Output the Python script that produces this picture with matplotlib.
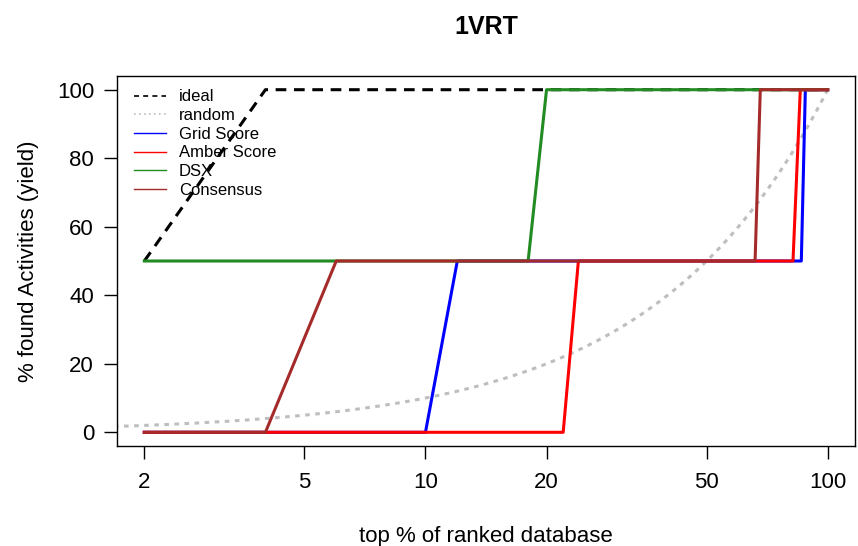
import numpy as np
import matplotlib
matplotlib.use('Agg')
from matplotlib import pyplot as plt
from matplotlib.lines import Line2D

plt.rcParams['font.family'] = ['Liberation Sans', 'DejaVu Sans']

# curves (x = top % of ranked database, y = % found)
ideal_x = [2, 4, 100]
ideal_y = [50, 100, 100]
random_x = [1, 100]
random_y = [1, 100]
grid_x = [2, 10, 12, 86, 88, 100]
grid_y = [0, 0, 50, 50, 100, 100]
amber_x = [2, 22, 24, 82, 85.5, 100]
amber_y = [0, 0, 50, 50, 100, 100]
dsx_x = [2, 18, 20, 100]
dsx_y = [50, 50, 100, 100]
cons_x = [2, 4, 6, 66, 68, 100]
cons_y = [0, 0, 50, 50, 100, 100]

xticks = [2, 5, 10, 20, 50, 100]
yticks = [0, 20, 40, 60, 80, 100]

fig = plt.figure(figsize=(8.58, 5.46), dpi=100)
ax = fig.add_axes([117/858, 1-446/546, (855-117)/858, (446-76)/546])

rx = np.logspace(0, 2, 200)
ax.plot(rx, np.interp(rx, random_x, random_y), color='#BEBEBE', lw=2.2, ls=(0, (1.5, 1.8)))
ax.plot(ideal_x, ideal_y, color='black', lw=2.2, ls=(0, (3.5, 2.5)))
ax.plot(grid_x, grid_y, color='blue', lw=2.2)
ax.plot(amber_x, amber_y, color='red', lw=2.2)
ax.plot(dsx_x, dsx_y, color='#228B22', lw=2.2)
ax.plot(cons_x, cons_y, color='#A52A2A', lw=2.2)

ax.set_xscale('log')
lo, hi = np.log10(2), np.log10(100)
d = (hi - lo) * 0.04
ax.set_xlim(10**(lo - d), 10**(hi + d))
ax.set_ylim(-4, 104)
ax.set_xticks(xticks)
ax.set_xticklabels([str(t) for t in xticks])
ax.xaxis.set_minor_locator(matplotlib.ticker.NullLocator())
ax.set_yticks(yticks)
ax.tick_params(direction='out', length=9.5, width=1, labelsize=16)
ax.tick_params(axis='x', pad=9)
ax.tick_params(axis='y', pad=7)
for s in ax.spines.values():
    s.set_linewidth(1)

ax.set_title('1VRT', fontsize=18, fontweight='bold', pad=30)
ax.set_xlabel('top % of ranked database', fontsize=16, labelpad=24)
ax.set_ylabel('% found Activities (yield)', fontsize=16, labelpad=13)

handles = [
    Line2D([], [], color='black', lw=1.2, ls=(0, (3, 2.5))),
    Line2D([], [], color='#BEBEBE', lw=1.2, ls=(0, (1, 2))),
    Line2D([], [], color='blue', lw=1),
    Line2D([], [], color='red', lw=1),
    Line2D([], [], color='#228B22', lw=1),
    Line2D([], [], color='#A52A2A', lw=1),
]
labels = ['ideal', 'random', 'Grid Score', 'Amber Score', 'DSX', 'Consensus']
ax.legend(handles, labels, loc='upper left', frameon=False, fontsize=12,
          handlelength=1.9, handletextpad=0.8, labelspacing=0.22,
          borderaxespad=0.4, bbox_to_anchor=(0.005, 1.0))

fig.savefig('out.png', dpi=100)
